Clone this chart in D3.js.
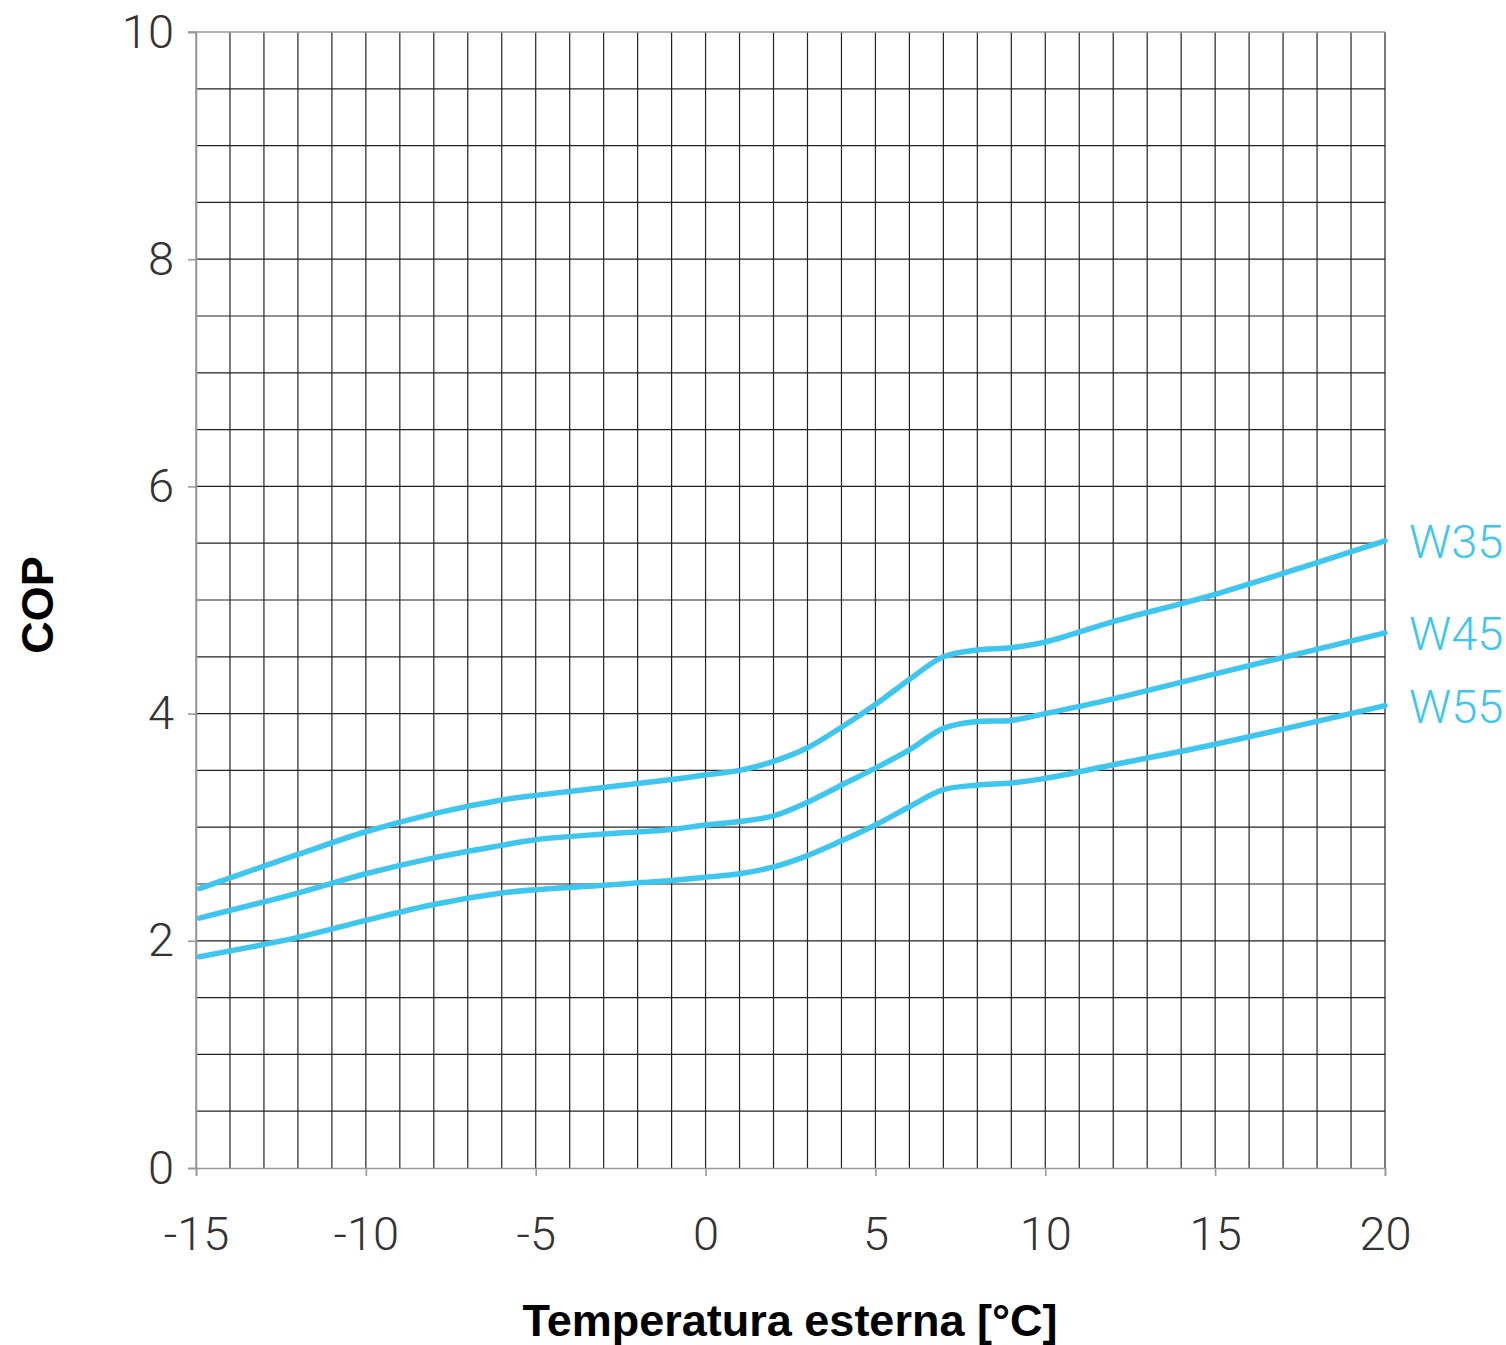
<!DOCTYPE html>
<html>
<head>
<meta charset="utf-8">
<script src="https://cdn.jsdelivr.net/npm/d3@7"></script>
<style>
  body { margin: 0; background: #fff; }
  svg text { font-family: Roboto, "Liberation Sans", sans-serif; }
</style>
</head>
<body>
<div id="chart"></div>
<script>
// Outside temperature samples (deg C)
var temps = [-14.9, -12, -10, -8, -6, -5, -3, -1, 0, 1, 2, 3, 4, 5, 6, 7, 8, 9, 10, 12, 15, 20];
var w35 = [2.46, 2.76, 2.96, 3.12, 3.24, 3.28, 3.35, 3.42, 3.46, 3.50, 3.58, 3.70, 3.88, 4.08, 4.30, 4.50, 4.56, 4.58, 4.63, 4.81, 5.05, 5.52];
var w45 = [2.20, 2.42, 2.59, 2.73, 2.84, 2.89, 2.94, 2.98, 3.02, 3.05, 3.10, 3.22, 3.37, 3.52, 3.68, 3.87, 3.93, 3.94, 4.00, 4.13, 4.35, 4.71];
var w55 = [1.86, 2.03, 2.18, 2.32, 2.42, 2.45, 2.49, 2.53, 2.56, 2.59, 2.65, 2.75, 2.88, 3.02, 3.18, 3.33, 3.37, 3.39, 3.43, 3.55, 3.73, 4.07];
var seriesNames = ["W35", "W45", "W55"];
var xTicks = [-15, -10, -5, 0, 5, 10, 15, 20];
var yTicks = [0, 2, 4, 6, 8, 10];

var width = 1506, height = 1345;
var margin = {left: 196, right: 121, top: 32, bottom: 177};
var blue = "#3ec6ef";

var svg = d3.select("#chart").append("svg")
  .attr("width", width)
  .attr("height", height);

var x = d3.scaleLinear().domain([-15, 20]).range([margin.left, width - margin.right]);
var y = d3.scaleLinear().domain([0, 10]).range([height - margin.bottom, margin.top]);

// grid: every 1 deg and every 0.5 COP
var grid = svg.append("g").attr("stroke", "#222").attr("stroke-width", 1.2);
grid.selectAll("line.v")
  .data(d3.range(-14, 21, 1))
  .join("line")
  .attr("x1", d => x(d)).attr("x2", d => x(d))
  .attr("y1", y(0)).attr("y2", y(10));
grid.selectAll("line.h")
  .data(d3.range(0.5, 10, 0.5))
  .join("line")
  .attr("x1", x(-15)).attr("x2", x(20))
  .attr("y1", d => y(d)).attr("y2", d => y(d));

// axes (lighter grey lines with outward ticks), plain hyphen for negatives
var fmt = d => String(d);
var yAxis = svg.append("g")
  .attr("transform", "translate(" + x(-15) + ",0)")
  .call(d3.axisLeft(y).tickValues(yTicks).tickSize(8).tickPadding(14).tickFormat(fmt));
var xAxis = svg.append("g")
  .attr("transform", "translate(0," + y(0) + ")")
  .call(d3.axisBottom(x).tickValues(xTicks).tickSize(8).tickPadding(41).tickFormat(fmt));

[yAxis, xAxis].forEach(a => {
  a.select(".domain").attr("stroke", "#999").attr("stroke-width", 1.6);
  a.selectAll(".tick line").attr("stroke", "#999").attr("stroke-width", 1.6);
  a.selectAll(".tick text")
    .attr("fill", "#333")
    .attr("font-size", 47)
    .attr("font-weight", 300)
    .style("font-family", "Roboto, sans-serif");
});
yAxis.selectAll(".tick text").attr("dy", "0.32em");
xAxis.selectAll(".tick text").attr("dy", "0.71em");

// top border in grey, overshooting left like the tick
svg.append("line")
  .attr("x1", x(-15) - 8).attr("x2", x(20))
  .attr("y1", y(10)).attr("y2", y(10))
  .attr("stroke", "#999").attr("stroke-width", 1.6);
svg.append("line")
  .attr("x1", x(-15)).attr("x2", x(-15))
  .attr("y1", y(10)).attr("y2", y(0))
  .attr("stroke", "#999").attr("stroke-width", 1.6);

// curves
var series = [w35, w45, w55];
var line = d3.line()
  .x((d, i) => x(temps[i]))
  .y(d => y(d))
  .curve(d3.curveCatmullRom.alpha(0.5));

svg.append("g").selectAll("path")
  .data(series)
  .join("path")
  .attr("d", d => line(d))
  .attr("fill", "none")
  .attr("stroke", blue)
  .attr("stroke-width", 5.5)
  .attr("stroke-linecap", "round");

// series labels at right end
svg.append("g").selectAll("text")
  .data(series)
  .join("text")
  .attr("x", x(20) + 24)
  .attr("y", d => y(d[d.length - 1]))
  .attr("dy", "0.36em")
  .attr("fill", blue)
  .attr("font-size", 47)
  .attr("font-weight", 300)
  .text((d, i) => seriesNames[i]);

// axis titles
svg.append("text")
  .attr("x", 790)
  .attr("y", 1336)
  .attr("text-anchor", "middle")
  .attr("font-size", 45)
  .attr("font-weight", 700)
  .style("font-family", "'Liberation Sans', Arial, sans-serif")
  .text("Temperatura esterna [°C]");

svg.append("text")
  .attr("transform", "translate(53,605) rotate(-90)")
  .attr("text-anchor", "middle")
  .attr("font-size", 45)
  .attr("font-weight", 700)
  .style("font-family", "'Liberation Sans', Arial, sans-serif")
  .text("COP");
</script>
</body>
</html>
